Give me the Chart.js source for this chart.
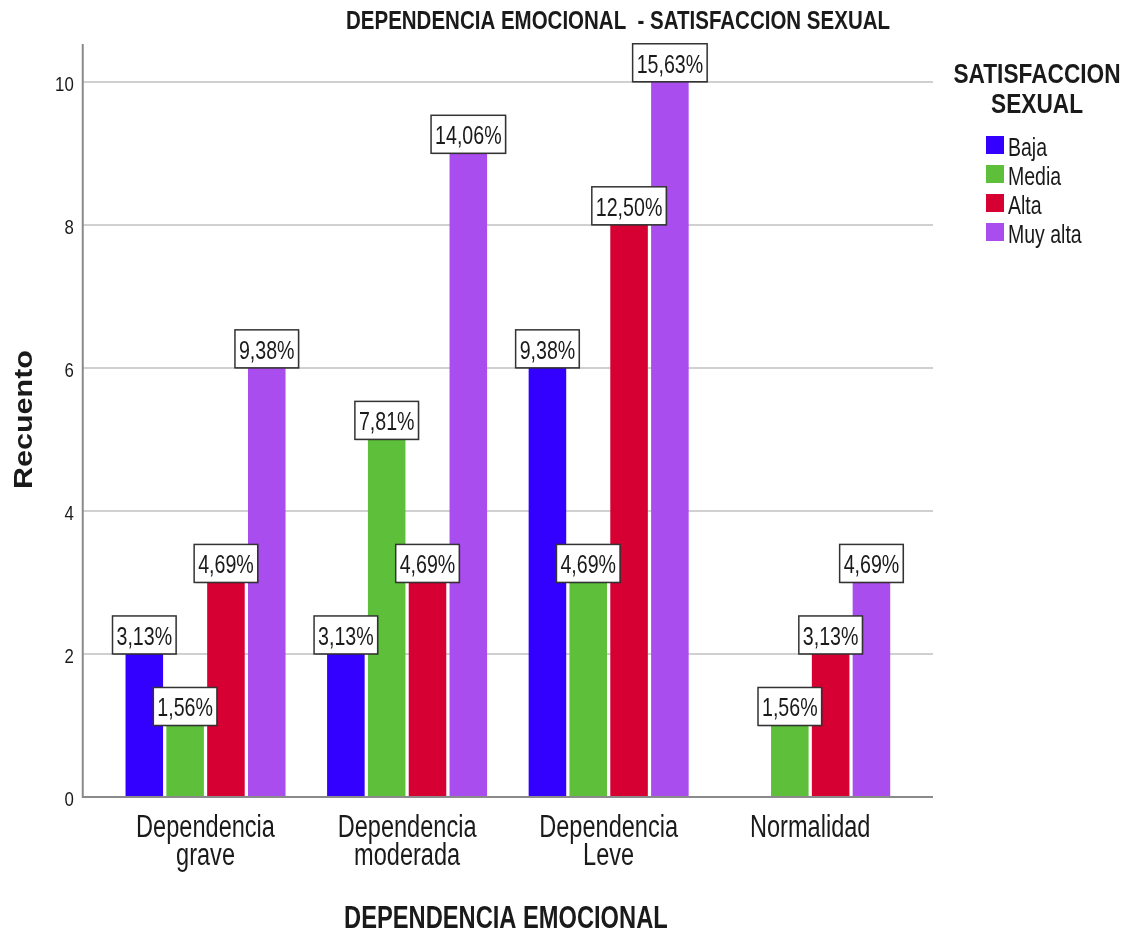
<!DOCTYPE html>
<html>
<head>
<meta charset="utf-8">
<script src="https://cdn.jsdelivr.net/npm/chart.js@4"></script>
<style>
  html, body { margin: 0; padding: 0; background: #fff; }
  #wrap { width: 1131px; height: 934px; }
</style>
</head>
<body>
<div id="wrap"><canvas id="chart" width="1131" height="934"></canvas></div>
<script>
// data
const categories = [['Dependencia', 'grave'], ['Dependencia', 'moderada'], ['Dependencia', 'Leve'], ['Normalidad']]
const seriesNames = ['Baja', 'Media', 'Alta', 'Muy alta']
const baja = [2, 2, 6, null]
const media = [1, 5, 3, 1]
const alta = [3, 3, 8, 2]
const muyAlta = [6, 9, 10, 3]
const bajaPct = ['3,13%', '3,13%', '9,38%', null]
const mediaPct = ['1,56%', '7,81%', '4,69%', '1,56%']
const altaPct = ['4,69%', '4,69%', '12,50%', '3,13%']
const muyAltaPct = ['9,38%', '14,06%', '15,63%', '4,69%']
const yTicks = [0, 2, 4, 6, 8, 10]

// colours
const colours = ['#3300ff', '#5ec03a', '#d70033', '#aa4dee']
const family = "'Liberation Sans', Arial, sans-serif"
const ink = '#1a1a1a'

const values = [baja, media, alta, muyAlta]
const pcts = [bajaPct, mediaPct, altaPct, muyAltaPct]

// narrow text: the original uses Arial Narrow, so squeeze Liberation Sans
const text = (ctx, txt, x, y, size, opts = {}) => {
  ctx.save()
  ctx.translate(x, y)
  if (opts.rotate) ctx.rotate(opts.rotate)
  ctx.scale(opts.sx || 0.76, 1)
  ctx.font = `${opts.bold ? 'bold ' : ''}${size}px ${family}`
  ctx.textAlign = opts.align || 'center'
  ctx.textBaseline = 'alphabetic'
  ctx.fillStyle = ink
  ctx.fillText(txt, 0, 0)
  ctx.restore()
}

const decorations = {
  id: 'decorations',
  beforeDatasetsDraw (chart) {
    const { ctx, chartArea, scales } = chart
    const left = chartArea.left - 22
    const right = chartArea.right + 22
    ctx.save()
    ctx.strokeStyle = '#d0d0d0'
    ctx.lineWidth = 2
    yTicks.slice(1).forEach((t) => {
      const y = Math.round(scales.y.getPixelForValue(t))
      ctx.beginPath()
      ctx.moveTo(left, y)
      ctx.lineTo(right, y)
      ctx.stroke()
    })
    ctx.restore()
  },
  afterDatasetsDraw (chart) {
    const { ctx, chartArea, scales } = chart
    const left = chartArea.left - 22
    const right = chartArea.right + 22
    const y0 = scales.y.getPixelForValue(0)
    ctx.save()
    // axis lines
    ctx.strokeStyle = '#8a8a8a'
    ctx.lineWidth = 2
    ctx.beginPath()
    ctx.moveTo(left, chartArea.top - 2)
    ctx.lineTo(left, y0)
    ctx.lineTo(right, y0)
    ctx.stroke()

    // y ticks
    yTicks.forEach((t) => {
      text(ctx, String(t), left - 9, scales.y.getPixelForValue(t) + 9, 21, { align: 'right', sx: 0.8 })
    })
    // x ticks
    categories.forEach((lines, i) => {
      const x = scales.x.getPixelForTick(i)
      lines.forEach((line, j) => text(ctx, line, x, 837 + j * 28, 31, { sx: 0.76 }))
    })
    // axis titles
    text(ctx, 'DEPENDENCIA EMOCIONAL', (chartArea.left + chartArea.right) / 2 - 2, 928, 32, { bold: true, sx: 0.74 })
    text(ctx, 'Recuento', 32, (chartArea.top + chartArea.bottom) / 2 - 2, 26.5, { bold: true, rotate: -Math.PI / 2, sx: 1.15 })

    // percentage boxes
    pcts.forEach((labels, d) => {
      const meta = chart.getDatasetMeta(d)
      labels.forEach((txt, i) => {
        if (!txt) return
        const bar = meta.data[i]
        ctx.font = `26.5px ${family}`
        const w = ctx.measureText(txt).width * 0.74 + 8
        const h = 38
        const x = bar.x - w / 2
        const y = bar.y - h
        ctx.fillStyle = 'rgba(0,0,0,0.2)'
        ctx.fillRect(x + 1, y + 1, w, h)
        ctx.fillStyle = '#fff'
        ctx.fillRect(x, y, w, h)
        ctx.strokeStyle = '#333'
        ctx.lineWidth = 1.5
        ctx.strokeRect(x, y, w, h)
        text(ctx, txt, bar.x, bar.y - 9, 26.5, { sx: 0.74 })
      })
    })

    // title
    text(ctx, 'DEPENDENCIA EMOCIONAL  - SATISFACCION SEXUAL', 618, 29, 25, { bold: true, sx: 0.82 })

    // legend
    text(ctx, 'SATISFACCION', 1037, 83, 28, { bold: true, sx: 0.81 })
    text(ctx, 'SEXUAL', 1037, 113, 28, { bold: true, sx: 0.81 })
    seriesNames.forEach((name, i) => {
      const y = 136 + i * 29
      ctx.fillStyle = colours[i]
      ctx.fillRect(986, y, 18, 18)
      text(ctx, name, 1008, y + 20, 25, { align: 'left', sx: 0.78 })
    })
    ctx.restore()
  }
}

const chart = new Chart(document.getElementById('chart'), {
  type: 'bar',
  data: {
    labels: categories,
    datasets: seriesNames.map((name, i) => ({
      label: name,
      data: values[i],
      backgroundColor: colours[i],
      categoryPercentage: 0.81,
      barPercentage: 0.92
    }))
  },
  options: {
    responsive: false,
    animation: false,
    layout: { padding: { left: 8, right: 220, top: 46, bottom: 6 } },
    plugins: {
      legend: { display: false },
      title: { display: false },
      tooltip: { enabled: false }
    },
    scales: {
      x: {
        grid: { display: false },
        border: { display: false },
        ticks: { display: false },
        afterFit: (s) => { s.height = 131 }
      },
      y: {
        min: 0,
        max: 10.5,
        grid: { display: false },
        border: { display: false },
        afterBuildTicks: (s) => { s.ticks = yTicks.map(v => ({ value: v })) },
        ticks: { display: false },
        afterFit: (s) => { s.width = 96.75 }
      }
    }
  },
  plugins: [decorations]
})
</script>
</body>
</html>
